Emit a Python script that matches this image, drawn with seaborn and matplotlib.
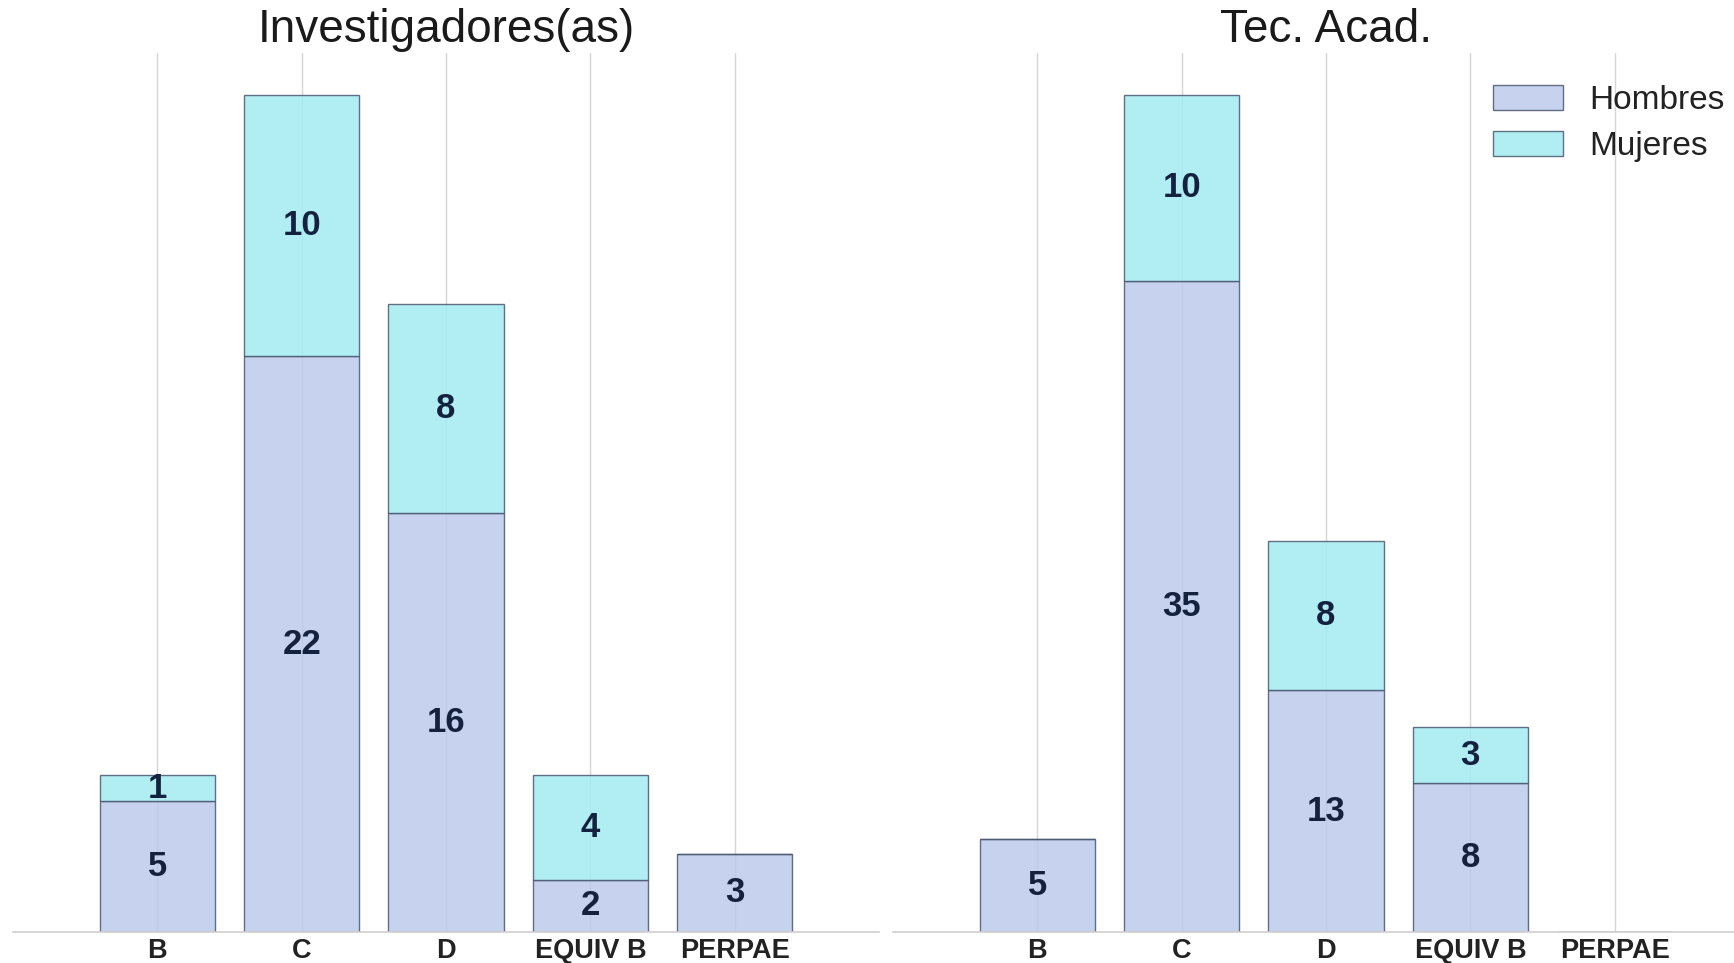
import matplotlib
matplotlib.use("Agg")
import matplotlib.pyplot as plt
from matplotlib.patches import Patch
import seaborn as sns
import pandas as pd

# Categories and counts per panel
categorias = ["B", "C", "D", "EQUIV B", "PERPAE"]

inv_hombres = [5, 22, 16, 2, 3]
inv_mujeres = [1, 10, 8, 4, 0]

tec_hombres = [5, 35, 13, 8, 0]
tec_mujeres = [0, 10, 8, 3, 0]

titulos = ["Investigadores(as)", "Tec. Acad."]
series = ["Hombres", "Mujeres"]

COL_H = "#bdcaeb"
COL_M = "#a4ebf3"
EDGE = "#4a5870"
LABEL_COL = "#15223f"
GRID_COL = "#d6d6d6"

sns.set_theme(style="white")
plt.rcParams["font.family"] = ["Liberation Sans", "DejaVu Sans"]

fig = plt.figure(figsize=(17.34, 9.63), dpi=100)

W, H = 1734, 963
bottom = 1 - 932 / H
height = (932 - 53) / H
ax_w = 866 / W
ax_left = fig.add_axes([13 / W, bottom, ax_w, height])
ax_right = fig.add_axes([893 / W, bottom, ax_w, height])

paneles = [
    (ax_left, titulos[0], inv_hombres, inv_mujeres),
    (ax_right, titulos[1], tec_hombres, tec_mujeres),
]

for ax, titulo, hombres, mujeres in paneles:
    df = pd.DataFrame({"categoria": categorias, "Hombres": hombres, "Mujeres": mujeres})

    sns.barplot(data=df, x="categoria", y="Hombres", color=COL_H, alpha=0.85,
                edgecolor=EDGE, linewidth=1.0, width=0.8, saturation=1, ax=ax)
    sns.barplot(data=df, x="categoria", y="Mujeres", color=COL_M, alpha=0.85,
                bottom=df["Hombres"], edgecolor=EDGE, linewidth=1.0, width=0.8,
                saturation=1, ax=ax)

    for cont, vals in zip(ax.containers, [hombres, mujeres]):
        ax.bar_label(cont, labels=[str(v) if v else "" for v in vals],
                     label_type="center", fontsize=25, fontweight="bold",
                     color=LABEL_COL)

    total_max = max(h + m for h, m in zip(hombres, mujeres))
    ax.set_ylim(0, total_max * 1.05)
    ax.set_xlim(-1, len(categorias))
    ax.set_yticks([])
    ax.set_xlabel("")
    ax.set_ylabel("")

    ax.grid(axis="x", color=GRID_COL, linewidth=1.0)
    ax.grid(axis="y", visible=False)
    ax.set_axisbelow(True)

    for side in ["left", "right", "top"]:
        ax.spines[side].set_visible(False)
    ax.spines["bottom"].set_color("#cfcfcf")
    ax.spines["bottom"].set_linewidth(1.2)

    ax.tick_params(axis="x", length=0, pad=4, labelsize=19.5, colors="#222222")
    for lbl in ax.get_xticklabels():
        lbl.set_fontweight("bold")

    ax.set_title(titulo, fontsize=33, color="#1a1a1a", pad=8)

handles = [
    Patch(facecolor=COL_H, edgecolor=EDGE, alpha=0.85, linewidth=1.0),
    Patch(facecolor=COL_M, edgecolor=EDGE, alpha=0.85, linewidth=1.0),
]
fig.legend(handles, series, loc="upper left",
           bbox_to_anchor=(1493 / W, 1 - 85 / H), frameon=False,
           fontsize=24, handlelength=2.1, handleheight=0.75,
           handletextpad=0.8, labelspacing=0.45, borderpad=0,
           borderaxespad=0, labelcolor="#222222")

fig.savefig("out.png", dpi=100)
